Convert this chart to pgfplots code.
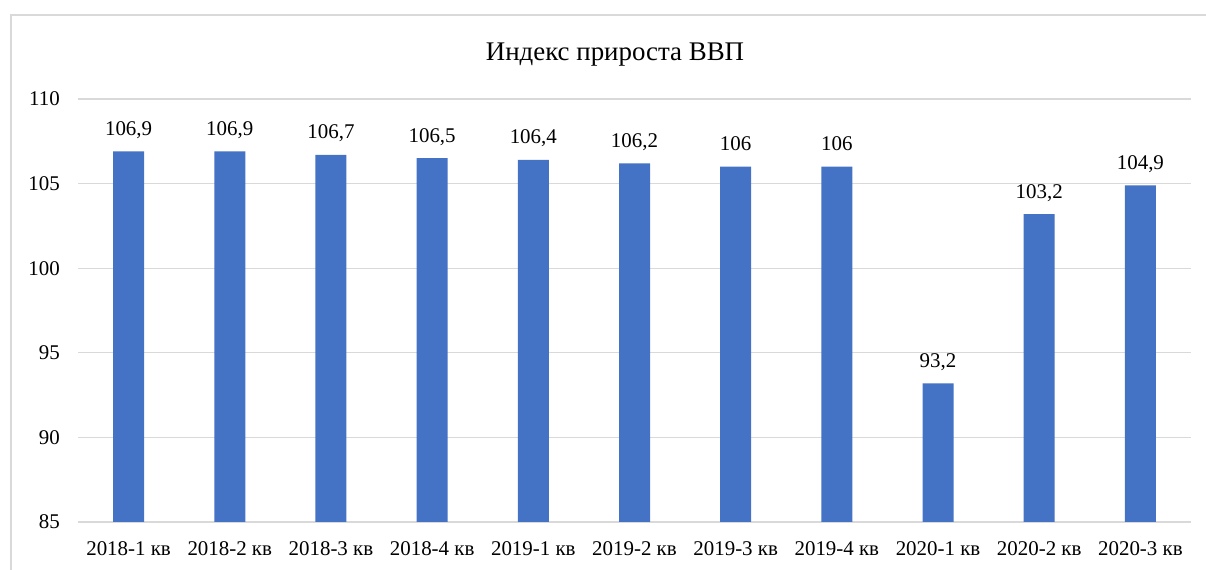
\documentclass[border=0pt]{standalone}
\usepackage{fontspec}
\setmainfont{Liberation Serif}
\usepackage{pgfplots}
\pgfplotsset{compat=1.18}
\definecolor{barblue}{HTML}{4472C4}
\definecolor{gridgray}{HTML}{D9D9D9}
\begin{document}
\begin{tikzpicture}
\useasboundingbox (0bp,0bp) rectangle (1206bp,570bp);
\begin{scope}
\clip (0bp,0bp) rectangle (1206bp,570bp);
\draw[gridgray, line width=1.5bp] (11bp,-20bp) rectangle (1240bp,555bp);
\end{scope}
\node[font=\fontsize{27}{32}\selectfont, inner sep=0pt, anchor=base] at (615bp,509bp) {Индекс прироста ВВП};
\begin{axis}[
  at={(78bp,48bp)}, anchor=south west,
  scale only axis, width=1113bp, height=423bp,
  xmin=-0.5, xmax=10.5, ymin=85, ymax=110,
  ytick={85,90,...,110},
  xtick={0,...,10},
  xticklabels={2018-1 кв,2018-2 кв,2018-3 кв,2018-4 кв,2019-1 кв,2019-2 кв,2019-3 кв,2019-4 кв,2020-1 кв,2020-2 кв,2020-3 кв},
  ymajorgrids, grid style={gridgray, line width=1.2bp},
  axis line style={draw=none},
  major tick length=0pt, tick style={draw=none},
  /pgf/number format/assume math mode=true,
  ticklabel style={font=\fontsize{21}{25}\selectfont, inner sep=0pt},
  yticklabel style={anchor=east, xshift=-18bp},
  xticklabel style={anchor=north, yshift=-19bp},
  ybar, bar width=31bp,
  nodes near coords,
  nodes near coords style={font=\fontsize{21}{25}\selectfont, anchor=base, inner sep=0pt, yshift=16bp, /pgf/number format/use comma, /pgf/number format/assume math mode=true},
]
\addplot[fill=barblue, draw=none] coordinates {
(0,106.9) (1,106.9) (2,106.7) (3,106.5) (4,106.4) (5,106.2) (6,106) (7,106) (8,93.2) (9,103.2) (10,104.9)
};
\end{axis}
\end{tikzpicture}
\end{document}
